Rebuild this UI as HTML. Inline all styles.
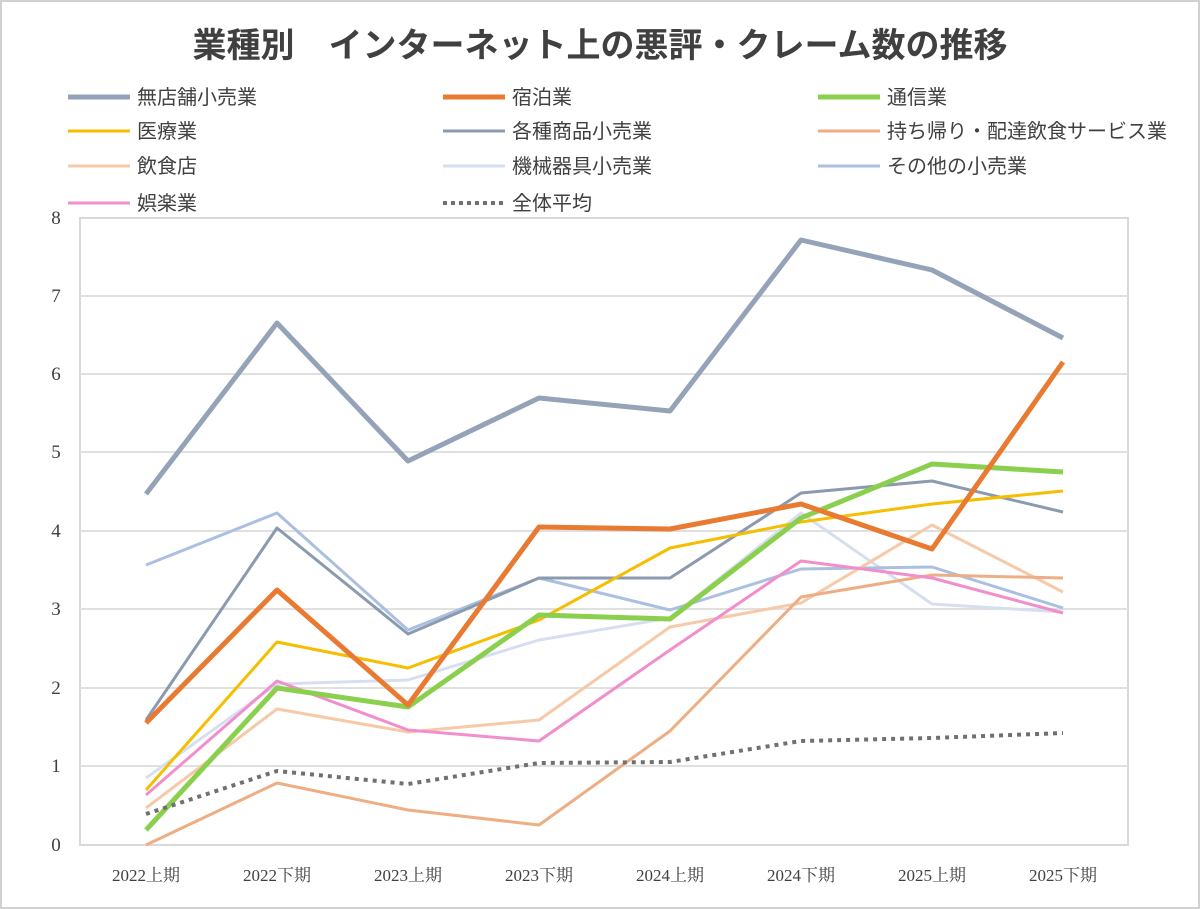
<!DOCTYPE html>
<html><head><meta charset="utf-8"><style>
body{margin:0;background:#fff}
svg{display:block}
text{font-family:"Liberation Sans","Noto Sans CJK JP",sans-serif}
.s{font-family:"Liberation Serif","Noto Serif CJK SC",serif}
</style></head><body>
<svg width="1200" height="909" viewBox="0 0 1200 909">
<rect x="1" y="1" width="1198" height="907" fill="#fff" stroke="#d0d0d0" stroke-width="2"/>
<text x="600" y="57" font-size="34" font-weight="bold" fill="#404040" text-anchor="middle">業種別　インターネット上の悪評・クレーム数の推移</text>
<g font-size="20" fill="#404040">
<line x1="68" y1="97" x2="130" y2="97" stroke="#94a3b8" stroke-width="5"/><text x="137" y="104">無店舗小売業</text>
<line x1="443" y1="97" x2="505" y2="97" stroke="#e97a31" stroke-width="5"/><text x="512" y="104">宿泊業</text>
<line x1="818" y1="97" x2="880" y2="97" stroke="#8bcf4e" stroke-width="5"/><text x="887" y="104">通信業</text>
<line x1="68" y1="131" x2="130" y2="131" stroke="#f5be00" stroke-width="3"/><text x="137" y="138">医療業</text>
<line x1="443" y1="131" x2="505" y2="131" stroke="#8a9bb0" stroke-width="3"/><text x="512" y="138">各種商品小売業</text>
<line x1="818" y1="131" x2="880" y2="131" stroke="#eeae84" stroke-width="3"/><text x="887" y="138">持ち帰り・配達飲食サービス業</text>
<line x1="68" y1="166" x2="130" y2="166" stroke="#f6c9a8" stroke-width="3"/><text x="137" y="173">飲食店</text>
<line x1="443" y1="166" x2="505" y2="166" stroke="#d6dff0" stroke-width="3"/><text x="512" y="173">機械器具小売業</text>
<line x1="818" y1="166" x2="880" y2="166" stroke="#abbfe0" stroke-width="3"/><text x="887" y="173">その他の小売業</text>
<line x1="68" y1="203" x2="130" y2="203" stroke="#f08fcc" stroke-width="3"/><text x="137" y="210">娯楽業</text>
<line x1="443" y1="203" x2="505" y2="203" stroke="#707070" stroke-width="4" stroke-dasharray="4,4"/><text x="512" y="210">全体平均</text>
</g>
<rect x="80" y="218" width="1048" height="627" fill="none" stroke="#d9d9d9" stroke-width="2"/>
<g stroke="#e0e0e0" stroke-width="2">
<line x1="80" y1="296" x2="1128" y2="296"/><line x1="80" y1="374" x2="1128" y2="374"/><line x1="80" y1="452" x2="1128" y2="452"/><line x1="80" y1="531" x2="1128" y2="531"/><line x1="80" y1="609" x2="1128" y2="609"/><line x1="80" y1="688" x2="1128" y2="688"/><line x1="80" y1="766" x2="1128" y2="766"/>
</g>
<g font-size="19" fill="#404040" text-anchor="middle">
<text class="s" x="56" y="224">8</text><text class="s" x="56" y="302">7</text><text class="s" x="56" y="380">6</text><text class="s" x="56" y="458">5</text><text class="s" x="56" y="537">4</text><text class="s" x="56" y="615">3</text><text class="s" x="56" y="694">2</text><text class="s" x="56" y="772">1</text><text class="s" x="56" y="851">0</text>
</g>
<g font-size="17" fill="#404040" text-anchor="middle">
<text class="s" x="146" y="881">2022上期</text><text class="s" x="277" y="881">2022下期</text><text class="s" x="408" y="881">2023上期</text><text class="s" x="539" y="881">2023下期</text><text class="s" x="670" y="881">2024上期</text><text class="s" x="801" y="881">2024下期</text><text class="s" x="932" y="881">2025上期</text><text class="s" x="1063" y="881">2025下期</text>
</g>
<g fill="none" stroke-linejoin="round">
<polyline stroke="#d6dff0" stroke-width="3" points="146,778 277,684 408,680 539,640 670,618 801,513 932,604 1063,612"/>
<polyline stroke="#abbfe0" stroke-width="3" points="146,565 277,513 408,630 539,578 670,610 801,569 932,567 1063,608"/>
<polyline stroke="#f6c9a8" stroke-width="3" points="146,808 277,709 408,732 539,720 670,627 801,603 932,525 1063,592"/>
<polyline stroke="#eeae84" stroke-width="3" points="146,845 277,783 408,810 539,825 670,731 801,597 932,575 1063,578"/>
<polyline stroke="#f08fcc" stroke-width="3" points="146,795 277,681 408,730 539,741 670,650 801,561 932,578 1063,613"/>
<polyline stroke="#8a9bb0" stroke-width="3" points="146,720 277,528 408,634 539,578 670,578 801,493 932,481 1063,512"/>
<polyline stroke="#f5be00" stroke-width="3" points="146,790 277,642 408,668 539,620 670,548 801,522 932,504 1063,491"/>
<polyline stroke="#8bcf4e" stroke-width="5" points="146,830 277,688 408,707 539,615 670,619 801,518 932,464 1063,472"/>
<polyline stroke="#e97a31" stroke-width="5" points="146,723 277,590 408,705 539,527 670,529 801,504 932,549 1063,362"/>
<polyline stroke="#94a3b8" stroke-width="5" points="146,494 277,323 408,461 539,398 670,411 801,240 932,270 1063,338"/>
<polyline stroke="#707070" stroke-width="4" stroke-dasharray="4,5" points="146,814 277,771 408,784 539,763 670,762 801,741 932,738 1063,733"/>
</g>
</svg>
</body></html>
